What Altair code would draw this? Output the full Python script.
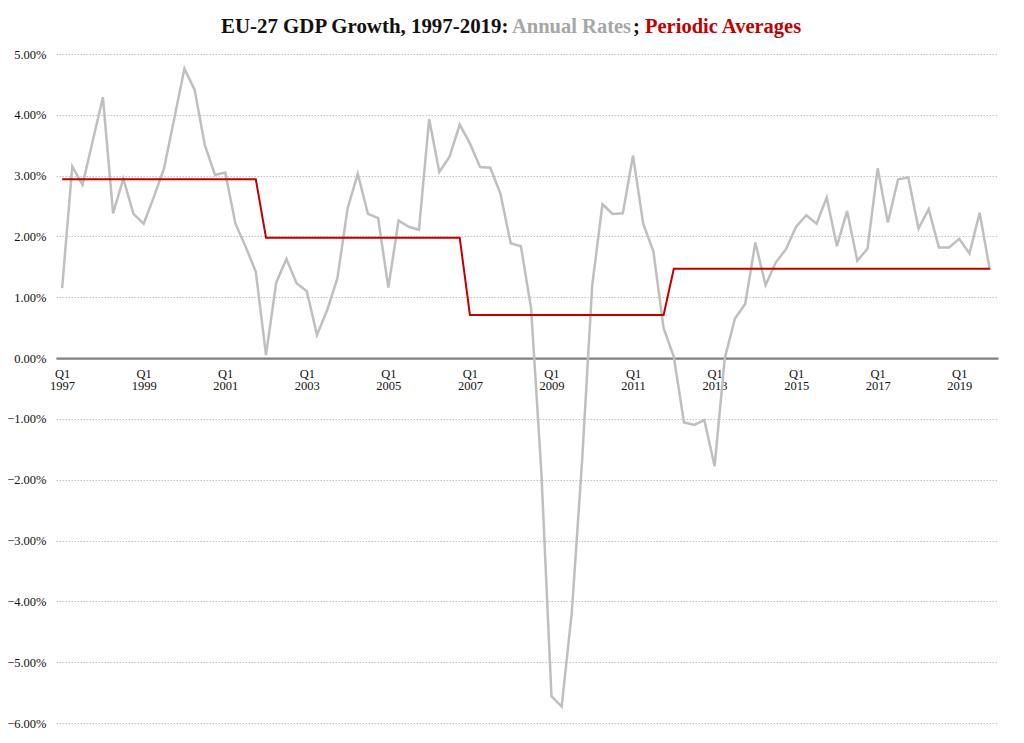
import altair as alt
import pandas as pd

# Quarterly annual growth rates (%), 1997 Q1 .. 2019 Q4
annual_rates = [1.15, 3.15, 2.85, 3.57, 4.29, 2.38, 2.95, 2.37, 2.21, 2.65,
                3.12, 3.94, 4.76, 4.41, 3.50, 3.01, 3.05, 2.21, 1.83, 1.42,
                0.05, 1.24, 1.63, 1.23, 1.10, 0.38, 0.79, 1.31, 2.46, 3.03,
                2.37, 2.30, 1.16, 2.26, 2.16, 2.11, 3.93, 3.06, 3.31, 3.84,
                3.53, 3.14, 3.13, 2.70, 1.89, 1.84, 0.82, -1.85, -5.56, -5.73,
                -4.17, -1.70, 1.20, 2.53, 2.37, 2.38, 3.33, 2.21, 1.75, 0.49,
                0.02, -1.06, -1.10, -1.02, -1.78, 0.00, 0.65, 0.89, 1.90, 1.20,
                1.57, 1.79, 2.16, 2.35, 2.21, 2.64, 1.84, 2.42, 1.60, 1.80,
                3.12, 2.23, 2.94, 2.97, 2.13, 2.45, 1.82, 1.82, 1.96, 1.72,
                2.39, 1.45]

# Periodic averages (%) and the number of quarters each covers
period_averages = [2.94, 1.98, 0.71, 1.47]
period_lengths = [20, 20, 20, 32]

start_year = 1997
tick_quarters = [0, 8, 16, 24, 32, 40, 48, 56, 64, 72, 80, 88]
y_ticks = [-6, -5, -4, -3, -2, -1, 0, 1, 2, 3, 4, 5]

avg_series = []
for a, n in zip(period_averages, period_lengths):
    avg_series += [a] * n

df = pd.DataFrame({
    "q": list(range(len(annual_rates))),
    "rate": annual_rates,
    "avg": avg_series,
})

W, H = 942, 669
font = "Liberation Serif"

x_scale = alt.Scale(domain=[-0.6, 91.8], nice=False, zero=False)
y_scale = alt.Scale(domain=[-6, 5], nice=False)

x_axis = alt.Axis(
    values=tick_quarters,
    labelExpr="['Q1', '' + (%d + datum.value / 4)]" % start_year,
    grid=False, ticks=False, title=None,
    domain=True, domainColor="#7f7f7f", domainWidth=2.2,
    offset=-(H * 6 / 11), labelFont=font, labelFontSize=12.5,
    labelColor="#111111", labelPadding=9, labelLineHeight=12,
    labelFlush=False, labelOverlap=False,
)
y_axis = alt.Axis(
    values=y_ticks,
    labelExpr="format(datum.value, '.2f') + '%'",
    grid=True, gridColor="#c4c4c4", gridDash=[1.5, 1.5], gridWidth=1,
    ticks=False, domain=False, title=None,
    labelFont=font, labelFontSize=12.5, labelColor="#111111", labelPadding=10,
)

base = alt.Chart(df)

rates = base.mark_line(color="#bfbfbf", strokeWidth=2.5).encode(
    x=alt.X("q:Q", scale=x_scale, axis=x_axis),
    y=alt.Y("rate:Q", scale=y_scale, axis=y_axis),
)
avgs = base.mark_line(color="#c00000", strokeWidth=2).encode(
    x=alt.X("q:Q", scale=x_scale),
    y=alt.Y("avg:Q", scale=y_scale),
)

title_parts = [
    ("EU-27 GDP Growth, 1997-2019:", "#111111", 165, 20.9),
    ("Annual Rates", "#a6a6a6", 456, 20.5),
    (";", "#111111", 577, 20.5),
    ("Periodic Averages", "#c00000", 589, 20.5),
]
title_layers = []
for txt, col, px, fs in title_parts:
    title_layers.append(
        alt.Chart(pd.DataFrame({"t": [txt]})).mark_text(
            align="left", baseline="alphabetic", font=font, fontSize=fs,
            fontWeight="bold", color=col,
        ).encode(text="t:N", x=alt.value(px), y=alt.value(-21))
    )

chart = alt.layer(rates, avgs, *title_layers).properties(
    width=W, height=H,
    autosize=alt.AutoSizeParams(type="none"),
    padding={"left": 48, "top": 46, "right": 18, "bottom": 12},
    background="white",
).configure_view(stroke=None, strokeWidth=0)

chart.save("out.html", embed_options={"renderer": "svg", "actions": False})
